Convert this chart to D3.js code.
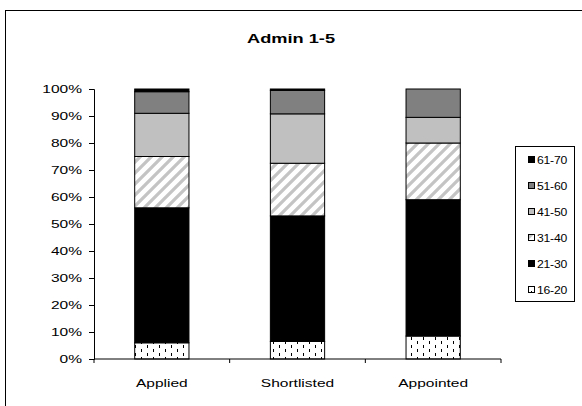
<!DOCTYPE html>
<html><head><meta charset="utf-8">
<script src="https://cdn.jsdelivr.net/npm/d3@7"></script>
<style>body{margin:0;background:#fff}svg{display:block;font-family:"Liberation Sans",Arial,sans-serif}</style>
</head><body><svg id="c" width="582" height="406"></svg>
<script>
const title = "Admin 1-5";
const categories = ["Applied", "Shortlisted", "Appointed"];
const seriesNames = ["16-20", "21-30", "31-40", "41-50", "51-60", "61-70"];
const s16_20 = [6, 6.5, 8.5];
const s21_30 = [50, 46.5, 50.5];
const s31_40 = [19, 19.5, 21];
const s41_50 = [16, 18.3, 9.5];
const s51_60 = [8, 8.7, 10.5];
const s61_70 = [1, 0.5, 0];
const yTicks = [0, 10, 20, 30, 40, 50, 60, 70, 80, 90, 100];

const seriesValues = [s16_20, s21_30, s31_40, s41_50, s51_60, s61_70];
const rows = categories.map((c, i) => {
  const r = {cat: c};
  seriesNames.forEach((s, j) => r[s] = seriesValues[j][i]);
  return r;
});

const SX = 1.35; // horizontal text stretch seen in the reference
const svg = d3.select("#c");
const defs = svg.append("defs");
const p1 = defs.append("pattern").attr("id", "pDots").attr("patternUnits", "userSpaceOnUse")
  .attr("width", 12).attr("height", 8);
p1.append("rect").attr("width", 12).attr("height", 8).attr("fill", "#fff");
p1.append("rect").attr("x", 3).attr("y", 1).attr("width", 1).attr("height", 3).attr("fill", "#000");
p1.append("rect").attr("x", 9).attr("y", 5).attr("width", 1).attr("height", 3).attr("fill", "#000");
const p2 = defs.append("pattern").attr("id", "pHatch").attr("patternUnits", "userSpaceOnUse")
  .attr("width", 11).attr("height", 11);
p2.append("rect").attr("width", 11).attr("height", 11).attr("fill", "#fff");
p2.append("path").attr("d", "M-2,13 L13,-2 M-2,2 L2,-2 M9,13 L13,9").attr("stroke", "#c4c4c4").attr("stroke-width", 3.2);

const fills = {"16-20": "url(#pDots)", "21-30": "#000", "31-40": "url(#pHatch)", "41-50": "#c0c0c0", "51-60": "#808080", "61-70": "#000"};

svg.append("rect").attr("x", 5.5).attr("y", 10.5).attr("width", 640).attr("height", 440)
  .attr("fill", "none").attr("stroke", "#000");

svg.append("text").attr("transform", `translate(291,43) scale(${SX},1)`).attr("text-anchor", "middle")
  .attr("font-size", 13.5).attr("font-weight", "bold").text(title);

const x = d3.scaleBand().domain(categories).range([94, 501]).paddingInner(0.6).paddingOuter(0.3);
const y = d3.scaleLinear().domain([0, 100]).range([359, 89]);

const stack = d3.stack().keys(seriesNames)(rows);

svg.append("g").selectAll("g").data(stack).join("g")
  .attr("fill", d => fills[d.key])
  .selectAll("rect").data(d => d).join("rect")
  .attr("x", d => x(d.data.cat))
  .attr("y", d => y(d[1]))
  .attr("width", x.bandwidth())
  .attr("height", d => y(d[0]) - y(d[1]))
  .attr("stroke", "#000").attr("stroke-width", 1);

const yAxis = d3.axisLeft(y).tickValues(yTicks).tickFormat(d => d + "%").tickSize(5);
const gy = svg.append("g").attr("transform", "translate(94,0)").call(yAxis);
gy.select(".domain").attr("stroke", "#000");
gy.selectAll(".tick line").attr("stroke", "#000");
gy.selectAll("text").attr("font-size", 11.5).attr("fill", "#000")
  .attr("font-family", "Liberation Sans, Arial, sans-serif")
  .attr("x", -12 / SX).attr("transform", `scale(${SX},1)`);

const gx = svg.append("g").attr("transform", "translate(0,359)");
gx.append("line").attr("x1", 94).attr("x2", 501).attr("stroke", "#000");
const bounds = d3.range(categories.length + 1).map(i => x.range()[0] + i * x.step());
gx.selectAll("line.t").data(bounds).join("line").attr("class", "t")
  .attr("x1", d => d).attr("x2", d => d).attr("y1", 0).attr("y2", 4).attr("stroke", "#000");
gx.selectAll("text").data(categories).join("text")
  .attr("transform", d => `translate(${x(d) + x.bandwidth() / 2},28) scale(${SX},1)`)
  .attr("text-anchor", "middle").attr("font-size", 11.5).text(d => d);

const lg = svg.append("g");
lg.append("rect").attr("x", 515.5).attr("y", 146.5).attr("width", 59).attr("height", 155)
  .attr("fill", "#fff").attr("stroke", "#000");
const legOrder = seriesNames.slice().reverse();
const li = lg.selectAll("g.i").data(legOrder).join("g").attr("class", "i")
  .attr("transform", (d, i) => `translate(528,${160 + i * 26})`);
li.append("rect").attr("x", 0.5).attr("y", -3.5).attr("width", 6).attr("height", 6)
  .attr("fill", d => fills[d]).attr("stroke", "#000");
li.append("text").attr("transform", `translate(9,3.5) scale(1.22,1)`)
  .attr("font-size", 10).attr("letter-spacing", -0.2).text(d => d);
</script></body></html>
